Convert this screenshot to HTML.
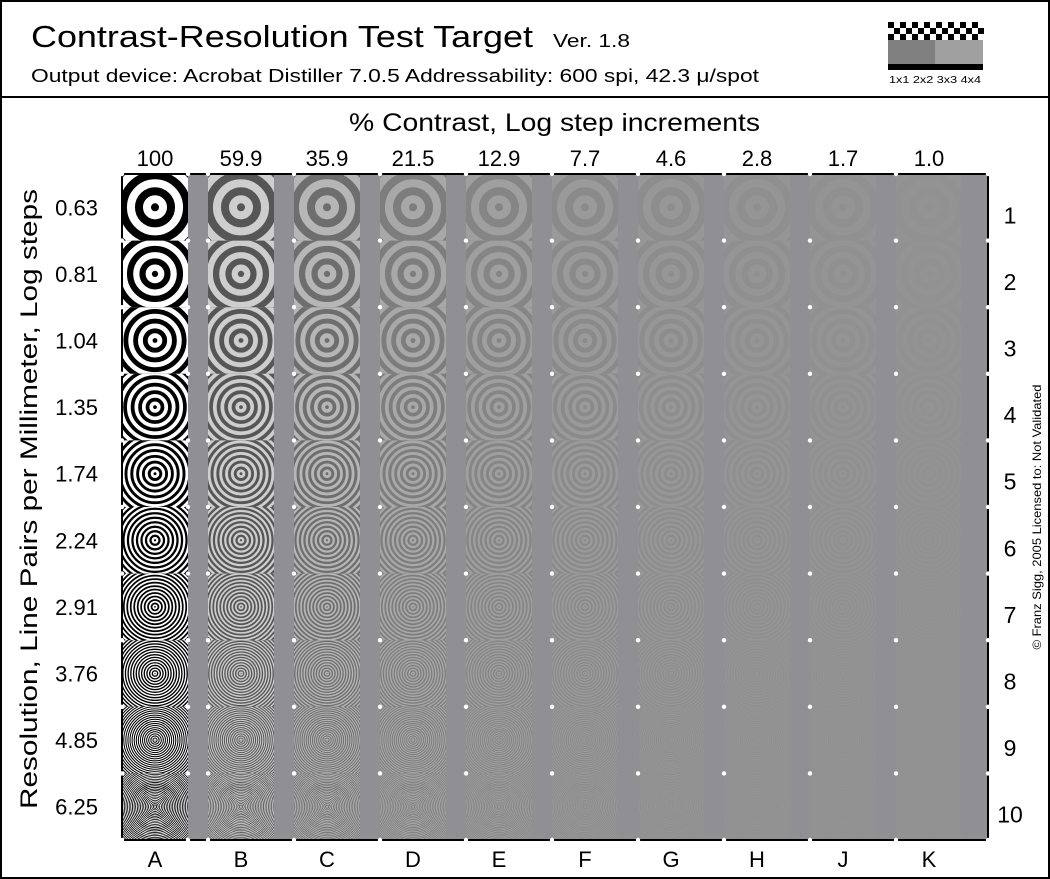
<!DOCTYPE html>
<html><head><meta charset="utf-8"><style>
html,body{margin:0;padding:0;background:#fff}
svg{display:block;font-family:"Liberation Sans",sans-serif}
</style></head><body>
<svg id="chart" width="1050" height="879" viewBox="0 0 1050 879">
<rect x="1" y="1" width="1048" height="877" fill="#fff" stroke="#000" stroke-width="2"/>
<line x1="0" y1="97" x2="1050" y2="97" stroke="#000" stroke-width="2"/>
<text x="31" y="47" font-size="31" textLength="502" lengthAdjust="spacingAndGlyphs">Contrast-Resolution Test Target</text>
<text x="553" y="47" font-size="18" textLength="77" lengthAdjust="spacingAndGlyphs">Ver. 1.8</text>
<text x="31" y="82" font-size="18" textLength="728" lengthAdjust="spacingAndGlyphs">Output device: Acrobat Distiller 7.0.5  Addressability: 600 spi, 42.3 μ/spot</text>
<g id="hdr"></g>
<text x="935" y="83" font-size="10" text-anchor="middle" textLength="92" lengthAdjust="spacingAndGlyphs">1x1 2x2 3x3 4x4</text>
<text x="349" y="131" font-size="25" textLength="411" lengthAdjust="spacingAndGlyphs">% Contrast,  Log step increments</text>
<text transform="translate(37,499) rotate(-90)" font-size="24" text-anchor="middle" textLength="620" lengthAdjust="spacingAndGlyphs">Resolution,  Line Pairs per Millimeter, Log steps</text>
<text transform="translate(1041,517) rotate(-90)" font-size="12" text-anchor="middle" textLength="265" lengthAdjust="spacingAndGlyphs">© Franz Sigg, 2005     Licensed to:  Not Validated</text>
<defs id="defs"></defs>
<g id="plot"></g>
</svg>
<script>
const contrastLabels=["100","59.9","35.9","21.5","12.9","7.7","4.6","2.8","1.7","1.0"];
const contrastValues=[100,59.9,35.9,21.5,12.9,7.7,4.6,2.8,1.7,1.0];
const columnLetters=["A","B","C","D","E","F","G","H","J","K"];
const resolutionLabels=["0.63","0.81","1.04","1.35","1.74","2.24","2.91","3.76","4.85","6.25"];
const resolutionValues=[0.63,0.81,1.04,1.35,1.74,2.24,2.91,3.76,4.85,6.25];
const rowNumbers=["1","2","3","4","5","6","7","8","9","10"];

const NS="http://www.w3.org/2000/svg";
const svg=document.getElementById('chart'),plot=document.getElementById('plot'),defs=document.getElementById('defs'),hdr=document.getElementById('hdr');
function mk(t,a,p){const e=document.createElementNS(NS,t);for(const k in a)e.setAttribute(k,a[k]);(p||plot).appendChild(e);return e;}
const X0=122,X1=988,Y0=174,Y1=840,PITCH=86,CW=66;
const colX=i=>X0+i*PITCH;
const rowH=(Y1-Y0)/resolutionValues.length;
const rowY=j=>Y0+j*rowH;
const periodOf=r=>10.1/r;
const MEAN=146;
function tones(c){if(c>=100)return [0,255];const a=c*1.0;return [Math.round(MEAN-a),Math.round(MEAN+a)];}
const g=v=>`rgb(${v},${v},${v})`;

for(let r=0;r<3;r++)for(let c=0;c<16;c++){if((r+c)%2==0){const e=mk('rect',{x:888+c*6,y:22+r*6,width:6,height:6,fill:'#000'},hdr);}}
{let e=mk('rect',{x:888,y:40,width:47,height:24,fill:'#808080'},hdr);
e=mk('rect',{x:935,y:40,width:48,height:24,fill:'#a0a0a0'},hdr);
e=mk('rect',{x:888,y:64,width:95,height:6,fill:'#000'},hdr);}

{const e=mk('rect',{x:X0,y:Y0,width:X1-X0,height:Y1-Y0,fill:'#909094'});}

contrastValues.forEach((c,i)=>{
  const [d,l]=tones(c);
  resolutionValues.forEach((r,j)=>{
    const x=colX(i),y=rowY(j),cx=x+CW/2,cy=y+rowH/2,p=periodOf(r);
    const cid='clip'+i+'_'+j;
    const cp=mk('clipPath',{id:cid},defs);mk('rect',{x:x,y:y,width:CW,height:rowH},cp);
    const grp=mk('g',{'clip-path':`url(#${cid})`});
    
    
    mk('rect',{x:x,y:y,width:CW,height:rowH,fill:g(l)},grp);
    mk('circle',{cx:cx,cy:cy,r:p/4,fill:g(d)},grp);
    const maxR=Math.hypot(CW/2,rowH/2)+p;
    for(let k=1;k*p<maxR;k++)mk('circle',{cx:cx,cy:cy,r:k*p,fill:'none',stroke:g(d),'stroke-width':p/2},grp);
  });
});

[[X0,Y0,X0,Y1],[X1,Y0,X1,Y1],[X0,Y1,X1,Y1],[X0,Y0,X1,Y0]].forEach(a=>{const e=mk('line',{x1:a[0],y1:a[1],x2:a[2],y2:a[3],stroke:'#000','stroke-width':2});});

for(let j=0;j<=resolutionValues.length;j++){
  const xs=[X0+CW];for(let i=0;i<contrastValues.length;i++)xs.push(colX(i));xs.push(X1);
  xs.forEach(x=>{const e=mk('circle',{cx:x,cy:rowY(j),r:2.2,fill:'#fff'});});
}

contrastLabels.forEach((t,i)=>{
  let e=mk('text',{x:colX(i)+CW/2,y:166,'font-size':22,'text-anchor':'middle'});e.textContent=t;
  
  e=mk('text',{x:colX(i)+CW/2,y:867,'font-size':22,'text-anchor':'middle'});e.textContent=columnLetters[i];
  
});
resolutionLabels.forEach((t,j)=>{
  let e=mk('text',{x:98,y:rowY(j)+rowH/2+8,'font-size':22,'text-anchor':'end'});e.textContent=t;
  
  e=mk('text',{x:1010,y:rowY(j)+rowH/2+16,'font-size':23,'text-anchor':'middle'});e.textContent=rowNumbers[j];
  
});
</script>
</body></html>
